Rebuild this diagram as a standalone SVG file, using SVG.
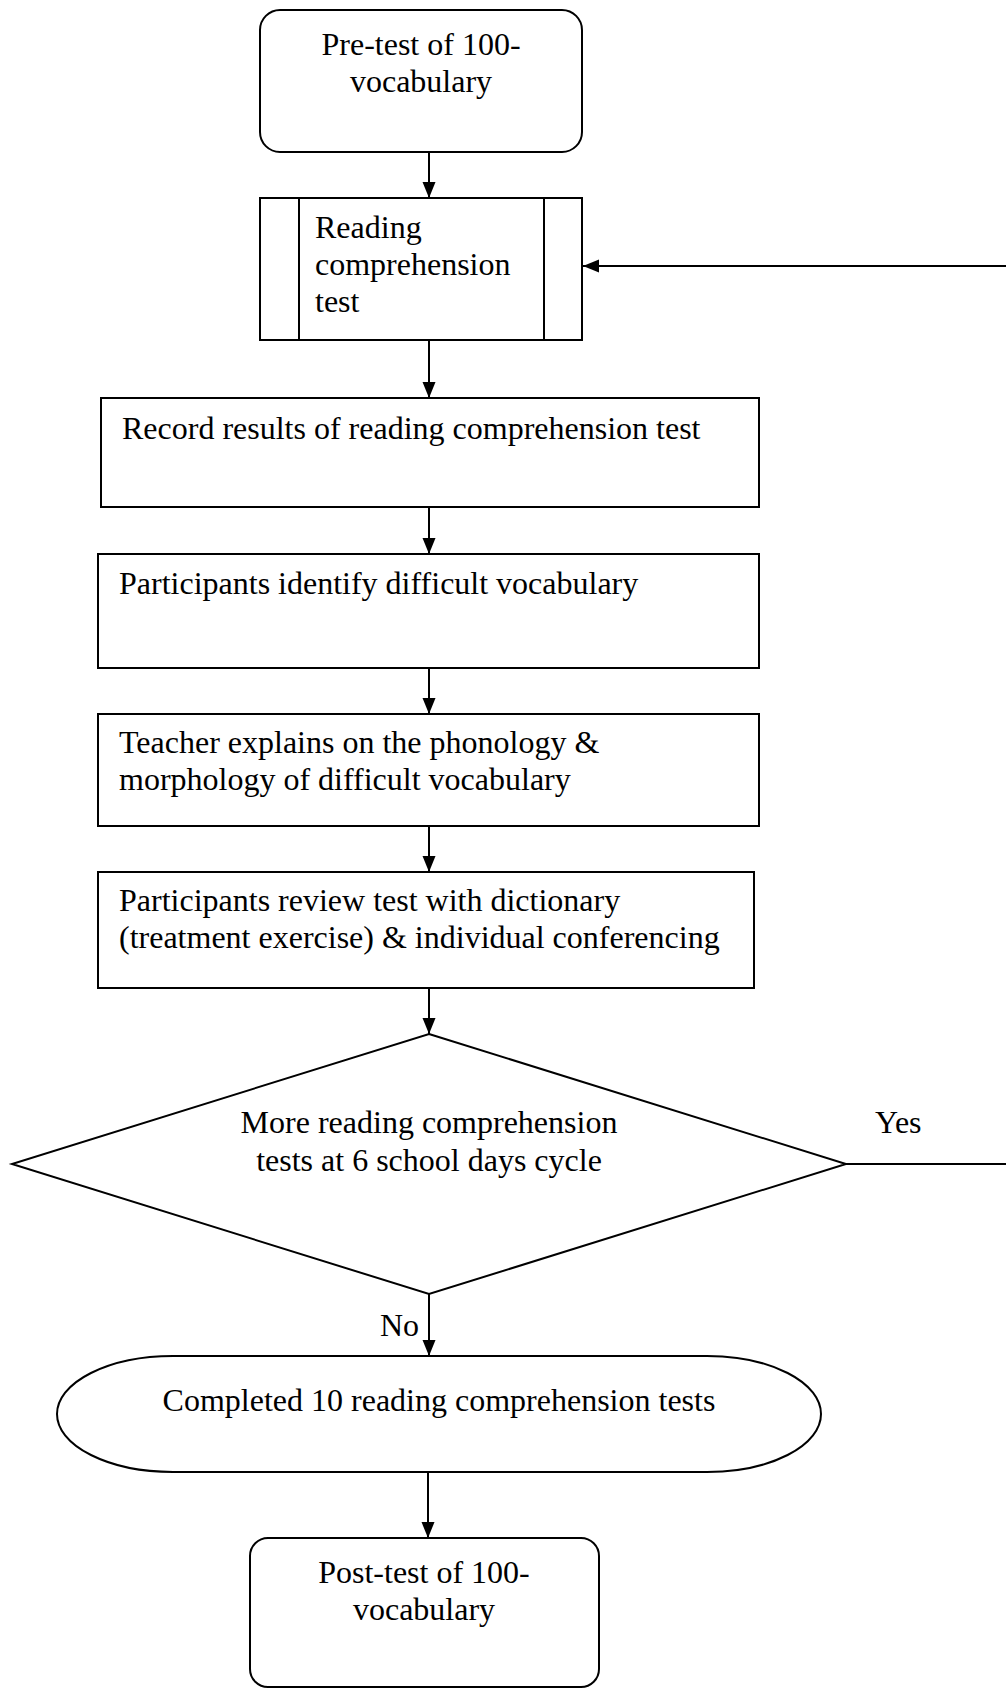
<svg xmlns="http://www.w3.org/2000/svg" width="1006" height="1688" viewBox="0 0 1006 1688">
<style>
.s{fill:#fff;stroke:#000;stroke-width:2}
.t{font-family:"Liberation Serif","Times New Roman",serif;font-size:32px;fill:#000}
.m{text-anchor:middle}
.c{fill:none;stroke:#000;stroke-width:2}
</style>
<defs>
<marker id="ah" markerUnits="userSpaceOnUse" markerWidth="16" markerHeight="14" refX="16" refY="7" orient="auto">
<path d="M0,0.5 L16,7 L0,13.5 z" fill="#000"/>
</marker>
</defs>
<rect width="1006" height="1688" fill="#fff"/>
<g id="connectors">
<line class="c" x1="429" y1="152" x2="429" y2="198" marker-end="url(#ah)"/>
<line class="c" x1="429" y1="340" x2="429" y2="398" marker-end="url(#ah)"/>
<line class="c" x1="429" y1="507" x2="429" y2="554" marker-end="url(#ah)"/>
<line class="c" x1="429" y1="668" x2="429" y2="714" marker-end="url(#ah)"/>
<line class="c" x1="429" y1="826" x2="429" y2="872" marker-end="url(#ah)"/>
<line class="c" x1="429" y1="988" x2="429" y2="1034" marker-end="url(#ah)"/>
<line class="c" x1="429" y1="1294" x2="429" y2="1356" marker-end="url(#ah)"/>
<line class="c" x1="428" y1="1472" x2="428" y2="1538" marker-end="url(#ah)"/>
<line class="c" x1="846" y1="1164" x2="1006" y2="1164"/>
<line class="c" x1="1006" y1="266" x2="583" y2="266" marker-end="url(#ah)"/>
<text class="t" x="875" y="1133">Yes</text>
<text class="t" x="380" y="1336">No</text>
</g>
<g id="pretest">
<rect class="s" x="260" y="10" width="322" height="142" rx="20" ry="20"/>
<text class="t m" x="421" y="55">Pre-test of 100-</text>
<text class="t m" x="421" y="92">vocabulary</text>
</g>
<g id="reading">
<rect class="s" x="260" y="198" width="322" height="142"/>
<line class="c" x1="299" y1="198" x2="299" y2="340"/>
<line class="c" x1="544" y1="198" x2="544" y2="340"/>
<text class="t" x="315" y="238">Reading</text>
<text class="t" x="315" y="275">comprehension</text>
<text class="t" x="315" y="312">test</text>
</g>
<g id="record">
<rect class="s" x="101" y="398" width="658" height="109"/>
<text class="t" x="122" y="439">Record results of reading comprehension test</text>
</g>
<g id="identify">
<rect class="s" x="98" y="554" width="661" height="114"/>
<text class="t" x="119" y="594">Participants identify difficult vocabulary</text>
</g>
<g id="teacher">
<rect class="s" x="98" y="714" width="661" height="112"/>
<text class="t" x="119" y="753">Teacher explains on the phonology &amp;</text>
<text class="t" x="119" y="790">morphology of difficult vocabulary</text>
</g>
<g id="review">
<rect class="s" x="98" y="872" width="656" height="116"/>
<text class="t" x="119" y="911">Participants review test with dictionary</text>
<text class="t" x="119" y="948">(treatment exercise) &amp; individual conferencing</text>
</g>
<g id="decision">
<polygon class="s" points="429,1034 846,1164 429,1294 12,1164"/>
<text class="t m" x="429" y="1133">More reading comprehension</text>
<text class="t m" x="429" y="1171">tests at 6 school days cycle</text>
</g>
<g id="completed">
<path class="s" d="M173,1356 L707,1356 A114,58 0 0 1 707,1472 L173,1472 A116,58 0 0 1 173,1356 Z"/>
<text class="t m" x="439" y="1411">Completed 10 reading comprehension tests</text>
</g>
<g id="posttest">
<rect class="s" x="250" y="1538" width="349" height="149" rx="18" ry="18"/>
<text class="t m" x="424" y="1583">Post-test of 100-</text>
<text class="t m" x="424" y="1620">vocabulary</text>
</g>
</svg>
